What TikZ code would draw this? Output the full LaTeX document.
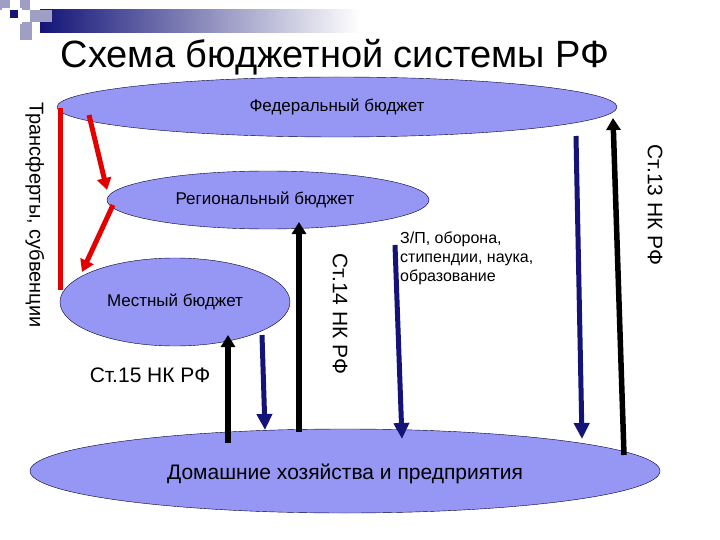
\documentclass[tikz,border=0pt]{standalone}
\usepackage{fontspec}
\setmainfont{Liberation Sans}
\usetikzlibrary{arrows.meta,shapes.geometric}
\definecolor{peri}{RGB}{150,150,245}
\definecolor{navyb}{RGB}{20,20,120}
\begin{document}
\begin{tikzpicture}[x=1pt,y=-1pt,
  ell/.style={draw=black!80!blue,fill=peri,ellipse},
  lbl/.style={font=\fontsize{17}{20}\selectfont},
  redarr/.style={draw=red!90!black,line width=5pt},
  blk/.style={draw=black,line width=5.5pt,-{Triangle[length=12pt,width=14pt]}},
  blu/.style={draw=navyb,line width=5pt,-{Triangle[length=16pt,width=15pt]}},
  sq/.style={fill=blue!25!gray!60!white}]
\useasboundingbox (0,0) rectangle (720,540);
\fill[white] (0,0) rectangle (720,540);
% header decoration
\shade[left color=navyb,right color=white] (40,10) rectangle (360,33);
\fill[sq] (0,0) rectangle (10,10);
\fill[sq] (20,0) rectangle (30,10);
\fill[sq] (30,10) rectangle (52,22);
\fill[sq] (20,22) rectangle (32,40);
\fill[white] (2,8) rectangle (22,24);
\fill[navyb] (10,10) rectangle (18,18);
\node[font=\fontsize{38}{42}\selectfont] (title) at (335,57) {Схема бюджетной системы РФ};
% ellipses
\node[ell,minimum width=560,minimum height=60] (fed) at (337,107) {};
\node[lbl] (fedt) at (337,107) {Федеральный бюджет};
\node[ell,minimum width=322,minimum height=58] (reg) at (268,200) {};
\node[lbl] (regt) at (265,200) {Региональный бюджет};
\node[ell,minimum width=230,minimum height=88] (loc) at (175,302) {};
\node[lbl] (loct) at (175,302) {Местный бюджет};
\node[ell,minimum width=630,minimum height=84] (hh) at (345,471) {};
\node[font=\fontsize{21}{24}\selectfont] (hht) at (345,474) {Домашние хозяйства и предприятия};
% coordinates
\coordinate (r1a) at (60,108); \coordinate (r1b) at (60,290);
\coordinate (r2a) at (89,115); \coordinate (r2b) at (107,190);
\coordinate (r3a) at (113,205); \coordinate (r3b) at (82,272);
\coordinate (k1a) at (228,443); \coordinate (k1b) at (228,335);
\coordinate (k2a) at (299,432); \coordinate (k2b) at (299,222);
\coordinate (k3a) at (624,455); \coordinate (k3b) at (613,118);
\coordinate (b1a) at (262,335); \coordinate (b1b) at (265,430);
\coordinate (b2a) at (395,245); \coordinate (b2b) at (402,439);
\coordinate (b3a) at (576,136); \coordinate (b3b) at (582,439);
% arrows
\draw[redarr] (r1a) -- (r1b);
\draw[redarr,-{Triangle[length=12pt,width=14pt]}] (r2a) -- (r2b);
\draw[redarr,-{Triangle[length=12pt,width=14pt]}] (r3a) -- (r3b);
\draw[blk] (k1a) -- (k1b);
\draw[blk] (k2a) -- (k2b);
\draw[blk] (k3a) -- (k3b);
\draw[blu] (b1a) -- (b1b);
\draw[blu] (b2a) -- (b2b);
\draw[blu] (b3a) -- (b3b);
% texts
\node[rotate=-90,font=\fontsize{21}{24}\selectfont] (t14) at (340,314) {Ст.14 НК РФ};
\node[rotate=-90,font=\fontsize{21}{24}\selectfont] (t13) at (655,205) {Ст.13 НК РФ};
\node[rotate=-90,font=\fontsize{20}{24}\selectfont] (ttr) at (35,215) {Трансферты, субвенции};
\node[font=\fontsize{21}{24}\selectfont] (t15) at (150,375) {Ст.15 НК РФ};
\node[align=left,anchor=north west,inner sep=0,font=\fontsize{16}{19}\selectfont] (tzp) at (400,232) {З/П, оборона,\\стипендии, наука,\\образование};
\end{tikzpicture}
\end{document}
